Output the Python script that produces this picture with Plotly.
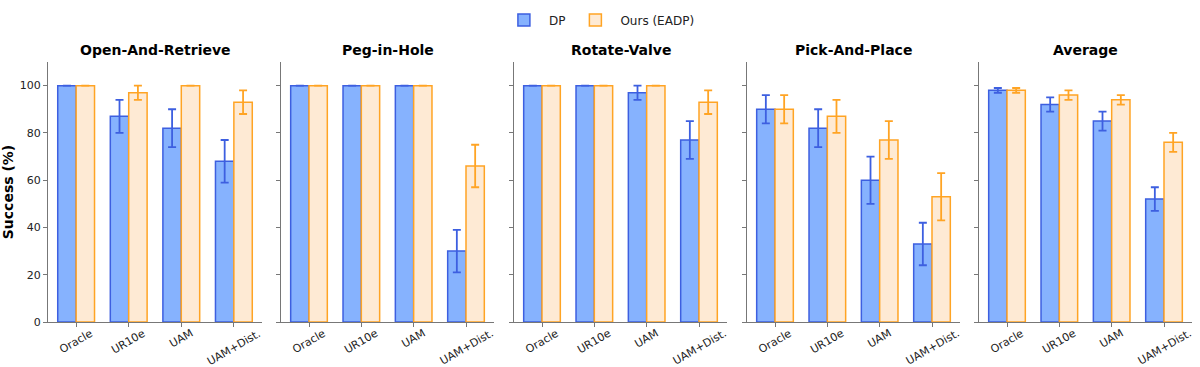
import plotly.graph_objects as go
from plotly.subplots import make_subplots

tasks = ["Open-And-Retrieve", "Peg-in-Hole", "Rotate-Valve", "Pick-And-Place", "Average"]
settings = ["Oracle", "UR10e", "UAM", "UAM+Dist."]

dp_mean = [
    [100, 87, 82, 68],
    [100, 100, 100, 30],
    [100, 100, 97, 77],
    [90, 82, 60, 33],
    [98, 92, 85, 52],
]
dp_err = [
    [0, 7, 8, 9],
    [0, 0, 0, 9],
    [0, 0, 3, 8],
    [6, 8, 10, 9],
    [1, 3, 4, 5],
]
ours_mean = [
    [100, 97, 100, 93],
    [100, 100, 100, 66],
    [100, 100, 100, 93],
    [90, 87, 77, 53],
    [98, 96, 94, 76],
]
ours_err = [
    [0, 3, 0, 5],
    [0, 0, 0, 9],
    [0, 0, 0, 5],
    [6, 7, 8, 10],
    [1, 2, 2, 4],
]

DP_FILL = "#86b2fe"
DP_EDGE = "#3d5fe0"
OURS_FILL = "#feead4"
OURS_EDGE = "#ffa424"
FONT = "DejaVu Sans"

W, H = 1200, 367
ML, MR, MT, MB = 48, 8, 62, 45
panel_px = [(48, 262), (281, 494), (514, 727), (747, 960), (979, 1192)]
pw = W - ML - MR

fig = make_subplots(rows=1, cols=5)

for i, task in enumerate(tasks):
    show = i == 0
    fig.add_trace(go.Bar(
        x=settings, y=dp_mean[i], name="DP", showlegend=show, legendgroup="dp",
        width=0.35, offset=-0.35,
        marker=dict(color=DP_FILL, line=dict(color=DP_EDGE, width=1.5)),
        error_y=dict(type="data", array=dp_err[i], color=DP_EDGE, thickness=1.8, width=4,
                     visible=True),
    ), row=1, col=i + 1)
    fig.add_trace(go.Bar(
        x=settings, y=ours_mean[i], name="Ours (EADP)", showlegend=show, legendgroup="ours",
        width=0.35, offset=0,
        marker=dict(color=OURS_FILL, line=dict(color=OURS_EDGE, width=1.5)),
        error_y=dict(type="data", array=ours_err[i], color=OURS_EDGE, thickness=1.8, width=4,
                     visible=True),
    ), row=1, col=i + 1)

    x0, x1 = panel_px[i]
    dom = [(x0 - ML) / pw, (x1 - ML) / pw]
    xa = "xaxis" if i == 0 else f"xaxis{i+1}"
    ya = "yaxis" if i == 0 else f"yaxis{i+1}"
    xref = "x" if i == 0 else f"x{i+1}"
    yref = "y" if i == 0 else f"y{i+1}"
    fig.layout[xa].update(
        domain=dom, range=[-0.535, 3.535], automargin=False,
        showticklabels=False,
        showline=True, linecolor="#777777", linewidth=1.2, mirror=False,
        ticks="outside", ticklen=4, tickcolor="#777777",
        showgrid=False, zeroline=False,
    )
    fig.layout[ya].update(
        range=[0, 110], tickvals=[0, 20, 40, 60, 80, 100], automargin=False,
        showticklabels=(i == 0),
        showline=True, linecolor="#777777", linewidth=1.2,
        ticks="outside", ticklen=4, tickcolor="#777777",
        tickfont=dict(family=FONT, size=11, color="#222222"),
        showgrid=False, zeroline=False,
    )
    fig.add_annotation(
        text=f"<b>{task}</b>", xref="paper", yref="paper",
        x=(dom[0] + dom[1]) / 2, y=1.0, yshift=2, xanchor="center", yanchor="bottom",
        showarrow=False, font=dict(family=FONT, size=14, color="#000000"),
    )
    # rotated, centre-aligned category labels (matplotlib style)
    for s in settings:
        fig.add_annotation(
            text=s, xref=xref, yref=yref, x=s, y=0, yshift=-2,
            xanchor="center", yanchor="top", textangle=-30, showarrow=False,
            font=dict(family=FONT, size=11, color="#222222"),
        )

fig.layout.yaxis.title = dict(text="<b>Success (%)</b>", font=dict(family=FONT, size=14, color="#000000"),
                              standoff=8)

fig.update_layout(
    width=W, height=H,
    margin=dict(l=ML, r=MR, t=MT, b=MB),
    plot_bgcolor="white", paper_bgcolor="white",
    barmode="overlay",
    font=dict(family=FONT, size=11, color="#222222"),
    legend=dict(orientation="h", x=0.482, xanchor="center", y=0.985, yanchor="top",
                yref="container", font=dict(family=FONT, size=12, color="#222222"),
                itemwidth=40, bgcolor="rgba(0,0,0,0)"),
)

fig.write_html("out.html", config={"displayModeBar": False},
               post_script="document.body.style.margin='0';")
